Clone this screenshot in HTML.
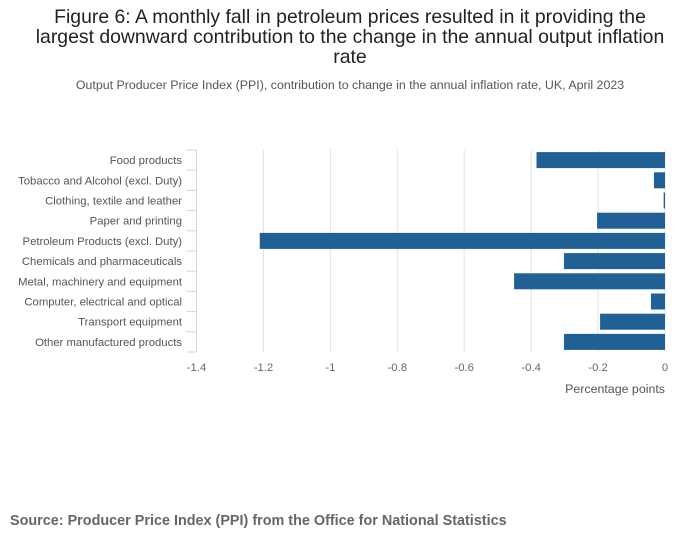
<!DOCTYPE html>
<html><head><meta charset="utf-8"><style>
body{margin:0;background:#fff;font-family:"Liberation Sans",sans-serif;}
#wrap{position:relative;width:700px;height:549px;overflow:hidden;}
h1{position:absolute;left:0;width:700px;top:7px;margin:0;text-align:center;font-weight:normal;font-size:19.4px;line-height:20px;color:#222;}
#sub{position:absolute;left:0;width:700px;top:78px;text-align:center;font-size:12.4px;color:#555;}
#src{position:absolute;left:10px;top:513px;font-size:14.4px;font-weight:bold;color:#666;}
</style></head><body><div id="wrap">
<h1>Figure 6: A monthly fall in petroleum prices resulted in it providing the<br>largest downward contribution to the change in the annual output inflation<br>rate</h1>
<div id="sub">Output Producer Price Index (PPI), contribution to change in the annual inflation rate, UK, April 2023</div>
<svg id="svg" width="700" height="549" style="position:absolute;left:0;top:0"></svg>
<div id="src">Source: Producer Price Index (PPI) from the Office for National Statistics</div>
</div>
<script>
const categories=["Food products","Tobacco and Alcohol (excl. Duty)","Clothing, textile and leather","Paper and printing","Petroleum Products (excl. Duty)","Chemicals and pharmaceuticals","Metal, machinery and equipment","Computer, electrical and optical","Transport equipment","Other manufactured products"];
const values=[-0.384,-0.033,-0.004,-0.203,-1.211,-0.302,-0.451,-0.042,-0.194,-0.302];
const ticks=[-1.4,-1.2,-1,-0.8,-0.6,-0.4,-0.2,0];
const tickLabels=["-1.4","-1.2","-1","-0.8","-0.6","-0.4","-0.2","0"];
const svg=document.getElementById('svg');const NS='http://www.w3.org/2000/svg';
const x0=196.5,x1=665,yTop=150,rowH=20.2;
function xs(v){return x0+(v-(-1.4))/(1.4)*(x1-x0);}
function mk(t,a,p){const e=document.createElementNS(NS,t);for(const k in a)e.setAttribute(k,a[k]);(p||svg).appendChild(e);return e;}
ticks.forEach((t,i)=>{
 if(i>0){const g=mk('line',{x1:xs(t),x2:xs(t),y1:yTop,y2:yTop+rowH*10,stroke:'#e2e2e2','stroke-width':1});
 
 }
 const l=mk('text',{x:xs(t),y:371,'text-anchor':'middle','font-size':11.3,fill:'#666','font-family':'Liberation Sans, sans-serif'});l.textContent=tickLabels[i];
 
 
});
const ax=mk('line',{x1:x0,x2:x0,y1:yTop,y2:yTop+rowH*10,stroke:'#ccd6eb','stroke-width':1});


for(let i=0;i<=10;i++){const t=mk('line',{x1:x0-10,x2:x0,y1:yTop+i*rowH,y2:yTop+i*rowH,stroke:'#ccd6eb','stroke-width':1});
 
 }
categories.forEach((c,i)=>{
 const cy=yTop+rowH*(i+0.5);
 const l=mk('text',{x:182,y:cy+4,'text-anchor':'end','font-size':11.3,fill:'#555','font-family':'Liberation Sans, sans-serif'});l.textContent=c;
 
 
 const v=values[i];const a=xs(v),b=xs(0);
 const r=mk('rect',{x:Math.min(a,b),y:cy-8,width:Math.max(Math.abs(b-a),1),height:16,fill:'#206095'});
 
 
});
const at=mk('text',{x:665,y:393,'text-anchor':'end','font-size':12.4,fill:'#555','font-family':'Liberation Sans, sans-serif'});at.textContent='Percentage points';


</script></body></html>
